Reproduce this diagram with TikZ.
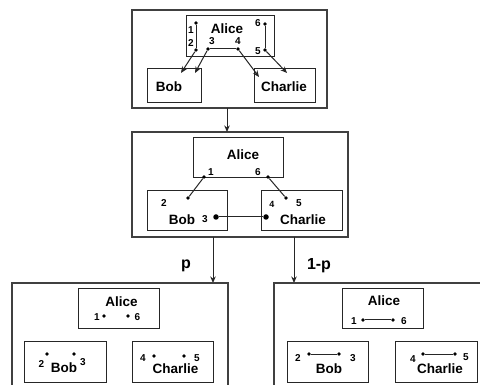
\documentclass[tikz,border=0pt]{standalone}
\usepackage{fontspec}
\setmainfont{Liberation Sans}
\usetikzlibrary{arrows.meta}
\tikzset{
  boxn/.style={draw=black!85, line width=1pt, inner sep=0pt, fill=white},
  outern/.style={draw=black!75, line width=1.3pt, inner sep=0pt},
  persontext/.style={inner sep=0pt, font=\fontsize{13.5}{15}\selectfont\bfseries},
  numtext/.style={inner sep=0pt, font=\fontsize{10}{11}\selectfont\bfseries},
  probtext/.style={inner sep=0pt, font=\fontsize{16}{18}\selectfont\bfseries},
  dotn/.style={circle, fill=black, inner sep=0pt, minimum size=3.8pt},
  bigdot/.style={circle, fill=black, inner sep=0pt, minimum size=5.5pt},
  conn/.style={draw=black!85, line width=1pt},
  arr/.style={draw=black!85, line width=1pt, -{Stealth[length=6.5pt,width=5.5pt]}},
}
\begin{document}
\begin{tikzpicture}[x=1pt,y=-1pt]
\useasboundingbox (0,0) rectangle (480,385);
\fill[white] (0,0) rectangle (480,385);
\begin{scope}
\clip (0,0) rectangle (480,385);
% ---------- top panel ----------
\node[outern, minimum width=195pt, minimum height=98pt] (topbox) at (229.5,59) {};
\node[boxn, minimum width=88pt, minimum height=41pt] (talice) at (230,36.5) {};
\node[boxn, minimum width=54pt, minimum height=34pt] (tbob) at (174,86) {};
\node[boxn, minimum width=61pt, minimum height=34pt] (tcharlie) at (284.5,86) {};
\node[persontext] (talicet) at (227,28.5) {Alice};
\node[persontext] (tbobt) at (169,87) {Bob};
\node[persontext] (tcharliet) at (284,87) {Charlie};
\node[dotn] (t1) at (196,23) {};
\node[dotn] (t2) at (196,50) {};
\node[dotn] (t3) at (208,49) {};
\node[dotn] (t4) at (238,49) {};
\node[dotn] (t5) at (265,50) {};
\node[dotn] (t6) at (265,24) {};
\node[numtext] (tl1) at (191,30) {1};
\node[numtext] (tl2) at (191,43) {2};
\node[numtext] (tl3) at (212,41) {3};
\node[numtext] (tl4) at (238,41) {4};
\node[numtext] (tl5) at (258,51) {5};
\node[numtext] (tl6) at (258,23) {6};
\draw[conn] (t1) -- (t2);
\draw[conn] (t3) -- (t4);
\draw[conn] (t6) -- (t5);
\coordinate (ta2) at (181,73);
\coordinate (ta3) at (195,73);
\coordinate (ta4) at (259,77);
\coordinate (ta5) at (287,73);
\draw[arr] (t2) -- (ta2);
\draw[arr] (t3) -- (ta3);
\draw[arr] (t4) -- (ta4);
\draw[arr] (t5) -- (ta5);
% ---------- middle panel ----------
\node[outern, minimum width=216pt, minimum height=105pt] (midbox) at (240,184.5) {};
\node[boxn, minimum width=90pt, minimum height=40pt] (malice) at (238,158) {};
\node[boxn, minimum width=80pt, minimum height=40pt] (mbob) at (187,211) {};
\node[boxn, minimum width=81pt, minimum height=40pt] (mcharlie) at (301.5,211) {};
\node[persontext] (malicet) at (243,155) {Alice};
\node[persontext] (mbobt) at (182,220) {Bob};
\node[persontext] (mcharliet) at (303,220) {Charlie};
\node[dotn] (m1) at (204,177) {};
\node[dotn] (m6) at (268,177) {};
\node[dotn] (m2) at (188,198) {};
\node[dotn] (m5) at (286,198) {};
\node[bigdot] (m3) at (216,217) {};
\node[bigdot] (m4) at (266,217) {};
\node[numtext] (ml1) at (211,172) {1};
\node[numtext] (ml6) at (258,172) {6};
\node[numtext] (ml2) at (164,203) {2};
\node[numtext] (ml5) at (299,203) {5};
\node[numtext, font=\fontsize{9}{10}\selectfont\bfseries] (ml4) at (272,204) {4};
\node[numtext] (ml3) at (205,219) {3};
\draw[conn] (m1) -- (m2);
\draw[conn] (m6) -- (m5);
\draw[conn] (m3) -- (m4);
% ---------- connections between panels ----------
\coordinate (tdown) at (227,108);
\coordinate (mtop) at (227,132);
\draw[arr] (tdown) -- (mtop);
\coordinate (mdl) at (213,237);
\coordinate (bltop) at (213,283);
\coordinate (mdr) at (294,237);
\coordinate (brtop) at (294,283);
\draw[arr] (mdl) -- (bltop);
\draw[arr] (mdr) -- (brtop);
\node[probtext] (pl) at (186,266) {p};
\node[probtext] (pr) at (319,266) {1-p};
% ---------- bottom left panel ----------
\node[outern, minimum width=216pt, minimum height=130pt] (blbox) at (120,348) {};
\node[boxn, minimum width=81pt, minimum height=40pt] (blalice) at (118.5,309) {};
\node[boxn, minimum width=82pt, minimum height=41pt] (blbob) at (65,361.5) {};
\node[boxn, minimum width=81pt, minimum height=41pt] (blcharlie) at (172.5,361.5) {};
\node[persontext] (blalicet) at (121.5,302) {Alice};
\node[persontext] (blbobt) at (64,368) {Bob};
\node[persontext] (blcharliet) at (175.5,369) {Charlie};
\node[dotn] (b1) at (104,316) {};
\node[dotn] (b6) at (128,316) {};
\node[numtext] (bl1) at (97,317) {1};
\node[numtext] (bl6) at (137.5,317) {6};
\node[dotn] (b2) at (47,354) {};
\node[dotn] (b3) at (74,354) {};
\node[numtext] (bl2) at (41.5,364) {2};
\node[numtext] (bl3) at (83,362) {3};
\node[dotn] (b4) at (154,356) {};
\node[dotn] (b5) at (184,356) {};
\node[numtext] (bl4) at (143,358) {4};
\node[numtext] (bl5) at (197,358) {5};
% ---------- bottom right panel ----------
\node[outern, minimum width=240pt, minimum height=130pt] (brbox) at (394,348) {};
\node[boxn, minimum width=81pt, minimum height=40pt] (bralice) at (382.5,309) {};
\node[boxn, minimum width=81pt, minimum height=41pt] (brbob) at (327.5,361.5) {};
\node[boxn, minimum width=82pt, minimum height=41pt] (brcharlie) at (436,361.5) {};
\node[persontext] (bralicet) at (384,301) {Alice};
\node[persontext] (brbobt) at (329,369) {Bob};
\node[persontext] (brcharliet) at (440,369) {Charlie};
\node[dotn] (r1) at (363,320) {};
\node[dotn] (r6) at (393,320) {};
\node[numtext] (rl1) at (354,321) {1};
\node[numtext] (rl6) at (404,321) {6};
\draw[conn] (r1) -- (r6);
\node[dotn] (r2) at (309,354) {};
\node[dotn] (r3) at (339,354) {};
\node[numtext] (rl2) at (298,358) {2};
\node[numtext] (rl3) at (353,358) {3};
\draw[conn] (r2) -- (r3);
\node[dotn] (r4) at (423,354) {};
\node[dotn] (r5) at (455,354) {};
\node[numtext] (rl4) at (413,359) {4};
\node[numtext] (rl5) at (466,357) {5};
\draw[conn] (r4) -- (r5);
\end{scope}
\end{tikzpicture}
\end{document}
